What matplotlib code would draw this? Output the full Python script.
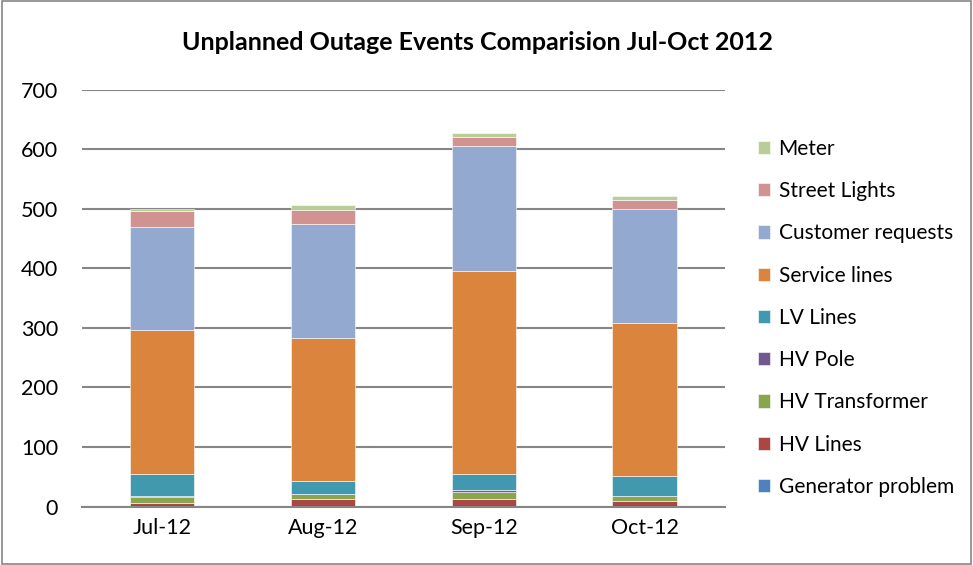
import numpy as np
import matplotlib.pyplot as plt

months = ["Jul-12", "Aug-12", "Sep-12", "Oct-12"]
series = ["Generator problem", "HV Lines", "HV Transformer", "HV Pole", "LV Lines",
          "Service lines", "Customer requests", "Street Lights", "Meter"]
generator = [0, 0, 0, 0]
hv_lines = [6, 12, 13, 10]
hv_transformer = [10, 9, 12, 7]
hv_pole = [2, 0, 2, 1]
lv_lines = [37, 22, 27, 33]
service_lines = [241, 240, 342, 257]
customer_requests = [173, 191, 209, 192]
street_lights = [27, 24, 16, 15]
meter = [3, 9, 6, 6]

values = [generator, hv_lines, hv_transformer, hv_pole, lv_lines,
          service_lines, customer_requests, street_lights, meter]
colors = ["#4F81BD", "#AA4643", "#89A54E", "#71588F", "#4198AF",
          "#DB843D", "#93A9CF", "#D19392", "#B9CD96"]

plt.rcParams['font.family'] = ['Lato', 'DejaVu Sans']

fig = plt.figure(figsize=(9.73, 5.65), dpi=100)
ax = fig.add_axes([0.084, 0.1035, 0.661, 0.7375])

x = np.arange(len(months))
bottom = np.zeros(len(months))
handles = []
for name, vals, c in zip(series, values, colors):
    b = ax.bar(x, vals, 0.4, bottom=bottom, color=c, label=name,
               edgecolor="white", linewidth=0.4)
    handles.append(b)
    bottom += np.array(vals)

ax.set_xlim(-0.5, 3.5)
ax.set_ylim(0, 700)
ax.set_yticks(range(0, 701, 100))
ax.set_xticks(x)
ax.set_xticklabels(months)
ax.tick_params(axis="both", labelsize=15.5, length=0, pad=8)
ax.tick_params(axis="y", pad=17)
ax.grid(axis="y", color="#868686", linewidth=1.5)
ax.set_axisbelow(True)
for s in ["top", "right", "left"]:
    ax.spines[s].set_visible(False)
ax.spines["bottom"].set_color("#868686")
ax.spines["bottom"].set_linewidth(1.5)

fig.text(0.491, 0.925, "Unplanned Outage Events Comparision Jul-Oct 2012",
         ha="center", va="center", fontsize=18, fontweight="bold")

leg = fig.legend(handles[::-1], series[::-1], loc="upper left",
                 bbox_to_anchor=(0.768, 0.773), frameon=False, fontsize=15,
                 handlelength=0.6, handleheight=0.6, handletextpad=0.4,
                 labelspacing=1.07, borderpad=0)

fig.patches.append(plt.Rectangle((0.002, 0.002), 0.996, 0.996, transform=fig.transFigure,
                                 fill=False, edgecolor="#868686", linewidth=1.2))

fig.savefig("out.png", dpi=100)
plt.close()
